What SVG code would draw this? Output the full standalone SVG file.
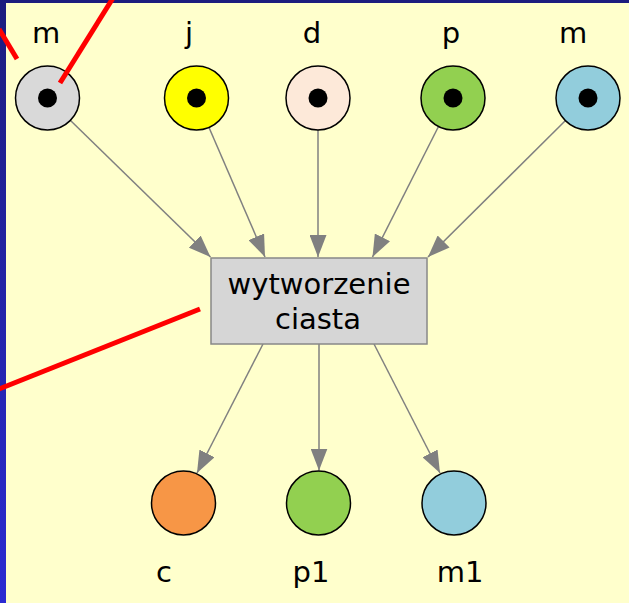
<svg xmlns="http://www.w3.org/2000/svg" width="629" height="603" viewBox="0 0 629 603">
<defs>
<linearGradient id="bar" x1="0" y1="0" x2="0" y2="1">
<stop offset="0" stop-color="#1c1c7e"/>
<stop offset="1" stop-color="#2b2bd2"/>
</linearGradient>
<marker id="arr" viewBox="0 0 22 17" refX="22" refY="8.5" markerWidth="22" markerHeight="17" markerUnits="userSpaceOnUse" orient="auto">
<path d="M0,0 L22,8.5 L0,17 z" fill="#808080"/>
</marker>
<style>
.lbl{font-family:"DejaVu Sans",Verdana,sans-serif;font-size:29px;fill:#000;text-anchor:middle}
.place{stroke:#000;stroke-width:1.5}
.tok{fill:#000}
.edge{stroke:#808080;stroke-width:1.5;fill:none;marker-end:url(#arr)}
.red{stroke:#ff0000;stroke-width:5;fill:none}
</style>
</defs>
<rect x="0" y="0" width="629" height="603" fill="#ffffcc"/>
<rect x="0" y="0" width="629" height="3" fill="#1c1c7e"/>
<rect x="0" y="0" width="6" height="603" fill="url(#bar)"/>

<g id="connectors">
<line class="edge" x1="70" y1="120" x2="210.5" y2="257"/>
<line class="edge" x1="209" y1="127.5" x2="265" y2="257"/>
<line class="edge" x1="318" y1="130" x2="318" y2="257"/>
<line class="edge" x1="438.5" y1="126.5" x2="372.5" y2="257"/>
<line class="edge" x1="565.5" y1="120.5" x2="428" y2="257"/>
<line class="edge" x1="263" y1="344" x2="197" y2="473"/>
<line class="edge" x1="319" y1="344" x2="319" y2="470.5"/>
<line class="edge" x1="374" y1="344" x2="440" y2="473"/>
</g>

<g id="p_m">
<text class="lbl" x="46" y="43">m</text>
<circle class="place" cx="47.5" cy="98" r="32" fill="#d9d9d9"/>
<circle class="tok" cx="47.5" cy="98" r="9.5"/>
</g>
<g id="p_j">
<text class="lbl" x="189" y="43">j</text>
<circle class="place" cx="196.5" cy="98" r="32" fill="#ffff00"/>
<circle class="tok" cx="196.5" cy="98" r="9.5"/>
</g>
<g id="p_d">
<text class="lbl" x="312" y="43">d</text>
<circle class="place" cx="318" cy="98" r="32" fill="#fde9d9"/>
<circle class="tok" cx="318" cy="98" r="9.5"/>
</g>
<g id="p_p">
<text class="lbl" x="451" y="43">p</text>
<circle class="place" cx="453" cy="98" r="32" fill="#92d050"/>
<circle class="tok" cx="453" cy="98" r="9.5"/>
</g>
<g id="p_m2">
<text class="lbl" x="573" y="43">m</text>
<circle class="place" cx="588" cy="98" r="32" fill="#92cddc"/>
<circle class="tok" cx="588" cy="98" r="9.5"/>
</g>

<g id="t_wytworzenie">
<rect x="211" y="258" width="216" height="86" fill="#d6d6d6" stroke="#888888" stroke-width="1.5"/>
<text class="lbl" x="319" y="294">wytworzenie</text>
<text class="lbl" x="318" y="329">ciasta</text>
</g>

<g id="p_c">
<circle class="place" cx="183.5" cy="503" r="32" fill="#f79646"/>
<text class="lbl" x="164" y="582">c</text>
</g>
<g id="p_p1">
<circle class="place" cx="318.5" cy="503" r="32" fill="#92d050"/>
<text class="lbl" x="311" y="582">p1</text>
</g>
<g id="p_m1">
<circle class="place" cx="454" cy="503" r="32" fill="#92cddc"/>
<text class="lbl" x="460" y="582">m1</text>
</g>

<g id="annotations">
<line class="red" x1="113" y1="-2" x2="60" y2="83"/>
<line class="red" x1="-1" y1="29" x2="17" y2="59"/>
<line class="red" x1="200" y1="309" x2="-1" y2="389"/>
</g>
</svg>
